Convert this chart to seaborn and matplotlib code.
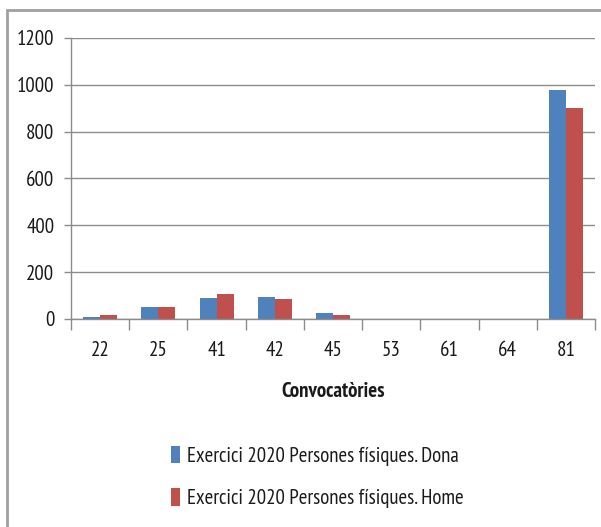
import matplotlib
matplotlib.use("Agg")
import matplotlib.pyplot as plt
from matplotlib.patches import Rectangle, Patch
import seaborn as sns
import pandas as pd

categories = ["22", "25", "41", "42", "45", "53", "61", "64", "81"]
dona = [10, 50, 91, 95, 26, 0, 0, 0, 977]
home = [16, 50, 105, 85, 16, 0, 0, 0, 903]
series_names = ["Exercici 2020 Persones físiques. Dona",
                "Exercici 2020 Persones físiques. Home"]
colors = ["#4F81BD", "#C0504D"]
yticks = [0, 200, 400, 600, 800, 1000, 1200]
xlabel = "Convocatòries"

sns.set_theme(style="white")
font = ["PT Sans Narrow", "DejaVu Sans"]
plt.rcParams["font.family"] = font
FS = 15

df = pd.DataFrame({
    "cat": categories * 2,
    "val": dona + home,
    "serie": [series_names[0]] * len(categories) + [series_names[1]] * len(categories),
})

fig = plt.figure(figsize=(6.01, 5.27), dpi=100)
ax = fig.add_axes([71 / 601, (527 - 319) / 527, 524 / 601, 281 / 527])

sns.barplot(data=df, x="cat", y="val", hue="serie", order=categories,
            hue_order=series_names, palette=dict(zip(series_names, colors)),
            width=0.585, gap=0, saturation=1, ax=ax, legend=False,
            edgecolor="none", linewidth=0)

ax.set_ylim(0, 1200)
ax.set_xlim(-0.5, len(categories) - 0.5)
ax.set_yticks(yticks)
ax.set_yticklabels([str(t) for t in yticks], fontsize=FS, color="#1a1a1a")
ax.yaxis.grid(True, color="#8c8c8c", linewidth=1)
ax.set_axisbelow(True)
ax.tick_params(axis="y", length=5, width=1, color="#8c8c8c", pad=7, left=True)

ax.set_xticks(range(len(categories)))
ax.set_xticklabels(categories, fontsize=FS, color="#1a1a1a")
ax.set_xticks([i - 0.5 for i in range(len(categories) + 1)], minor=True)
ax.tick_params(axis="x", which="major", length=0, pad=16)
ax.tick_params(axis="x", which="minor", length=8, width=1, color="#8c8c8c", bottom=True)

for s in ["top", "right"]:
    ax.spines[s].set_visible(False)
for s in ["left", "bottom"]:
    ax.spines[s].set_color("#8c8c8c")
    ax.spines[s].set_linewidth(1)

ax.set_xlabel(xlabel, fontsize=FS, fontweight="bold", color="#1a1a1a", labelpad=16)
ax.set_ylabel("")

handles = [Patch(facecolor=c, edgecolor="none") for c in colors]
fig.legend(handles, series_names, loc="center left",
           bbox_to_anchor=(152 / 601, (527 - 477) / 527), frameon=False,
           fontsize=FS, handlelength=0.45, handleheight=0.9, handletextpad=0.35,
           labelspacing=1.1, labelcolor="#1a1a1a")

fig.patches.append(Rectangle((7 / 601, -0.1), 1.0, 0.981 + 0.1,
                             transform=fig.transFigure, fill=False,
                             edgecolor="#a0a0a0", linewidth=2))

fig.savefig("out.png", dpi=100, facecolor="white")
